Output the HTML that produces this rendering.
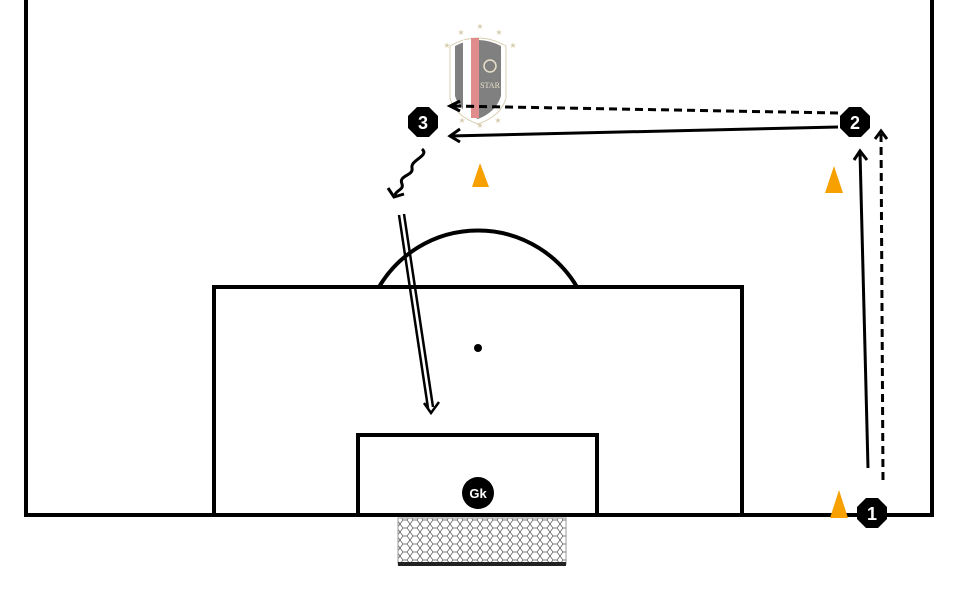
<!DOCTYPE html>
<html><head><style>body{margin:0;background:#fff}svg{display:block}</style></head><body>
<svg width="960" height="600" viewBox="0 0 960 600" xmlns="http://www.w3.org/2000/svg">
<defs>
<pattern id="net" width="10" height="8" patternUnits="userSpaceOnUse">
<path d="M0 4 L3 0 L7 0 L10 4 L7 8 L3 8 Z" fill="none" stroke="#555" stroke-width="0.7"/>
</pattern>
</defs>
<g fill="none" stroke="#000" stroke-width="4">
<path d="M26 0 V515 H932 V0"/>
<path d="M214 515 V287 H742 V515"/>
<path d="M358 515 V435 H597 V515"/>
<path d="M379 287 A115 115 0 0 1 577 287"/>
</g>
<circle cx="478" cy="348" r="4" fill="#000"/>
<rect x="398" y="518" width="168" height="46" fill="url(#net)" stroke="#999" stroke-width="1"/>
<rect x="398" y="562" width="168" height="4" fill="#222"/>
<!-- logo -->
<g>
<path d="M450 46 Q478 30 506 46 L506 98 Q501 116 478 124 Q455 116 450 98 Z" fill="#fff" stroke="#d8cfb0" stroke-width="1"/>
<path d="M455 46 Q478 34 501 46 L501 96 Q496 112 478 119 Q460 112 455 96 Z" fill="#808080"/>
<rect x="463" y="40" width="8" height="76" fill="#fff"/>
<rect x="471" y="38" width="8" height="80" fill="#e08c8c"/>
<text x="490" y="88" font-family="Liberation Serif,serif" font-size="8" fill="#e8e0c8" text-anchor="middle">STAR</text>
<circle cx="490" cy="66" r="6" fill="none" stroke="#e8e0c8" stroke-width="1.5"/>
<g fill="#d8cfb0" font-size="8" font-family="DejaVu Sans,sans-serif" text-anchor="middle">
<text x="480" y="29">★</text><text x="461" y="35">★</text><text x="499" y="35">★</text><text x="447" y="48">★</text><text x="513" y="48">★</text>
<text x="462" y="123">★</text><text x="480" y="128">★</text><text x="498" y="123">★</text>
</g>
</g>
<!-- cones -->
<g fill="#f7a000">
<path d="M480 163 L472 187 H489 Z"/>
<path d="M834 166 L825 193 H843 Z"/>
<path d="M839 490 L830 518 H848 Z"/>
</g>
<!-- arrows -->
<g fill="none" stroke="#000" stroke-width="3">
<path d="M838 127 L450 136"/>
<path d="M460 129 L450 136 L460 142"/>
<path d="M838 113 L452 106" stroke-dasharray="8 5"/>
<path d="M460 101 L450 106 L460 111"/>
<path d="M868 468 L860 152"/>
<path d="M854 160 L860 151 L867 160"/>
<path d="M883 480 L881 133" stroke-dasharray="8 5"/>
<path d="M875 139 L881 131 L887 139"/>
<path d="M422 149 C430 156 410 160 412 168 C414 176 398 175 402 184 C404 190 396 190 395 195" />
<path d="M388 188 L394 197 L404 194"/>
<path d="M399 215 L428 408 M404 214 L433 407" stroke-width="2.5"/>
<path d="M424 403 L431 413 L439 402" stroke-width="2.5"/>
</g>
<!-- players -->
<g fill="#000">
<polygon points="417,107 429,107 438,116 438,128 429,137 417,137 408,128 408,116"/>
<polygon points="849,107 861,107 870,116 870,128 861,137 849,137 840,128 840,116"/>
<polygon points="866,498 878,498 887,507 887,519 878,528 866,528 857,519 857,507"/>
<circle cx="478" cy="493" r="16"/>
</g>
<g fill="#fff" font-family="Liberation Sans,sans-serif" font-weight="bold" text-anchor="middle">
<text x="423" y="129" font-size="18">3</text>
<text x="855" y="129" font-size="18">2</text>
<text x="872" y="520" font-size="18">1</text>
<text x="478" y="498" font-size="13">Gk</text>
</g>
</svg>
</body></html>
